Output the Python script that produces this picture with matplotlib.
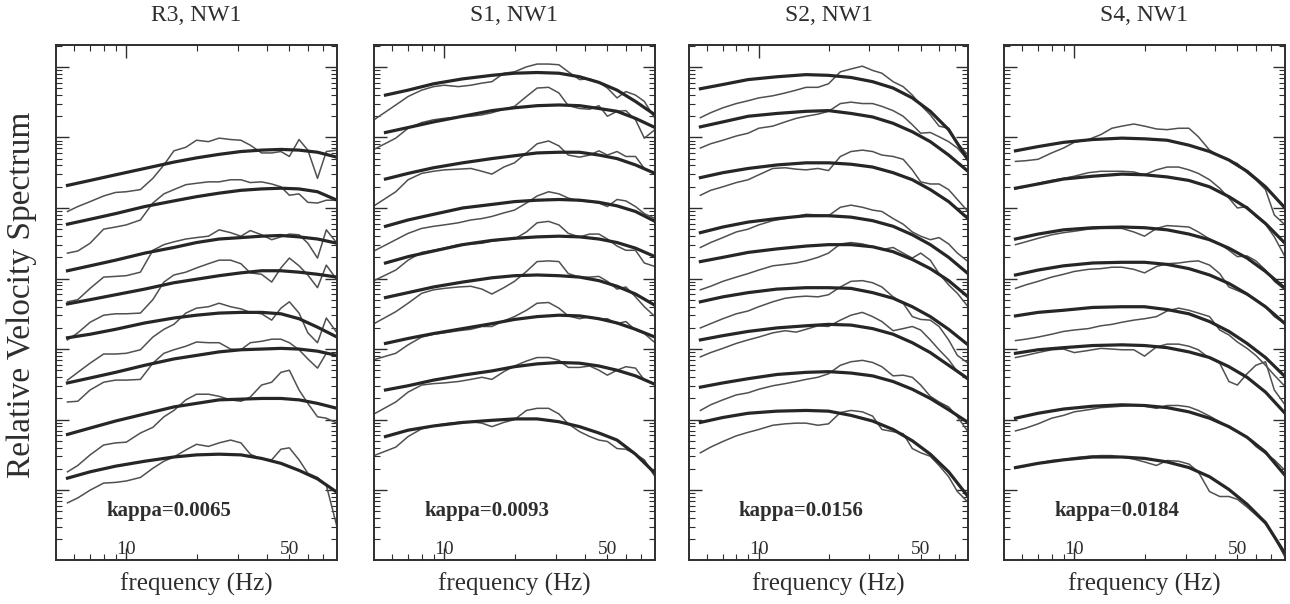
import matplotlib
matplotlib.use('Agg')
import matplotlib.pyplot as plt
from matplotlib.ticker import FixedLocator, FuncFormatter, NullFormatter, LogLocator
import numpy as np

plt.rcParams['font.family'] = ['Liberation Serif', 'DejaVu Serif']

# frequency grids (Hz)
freq_fit = [5.6, 7, 9, 12, 16, 20, 25, 31, 38, 46, 55, 66, 80]
freq_obs = [5.6, 6.2, 7, 8, 9, 10, 11.5, 13, 14.5, 16, 18, 20, 22.5, 25, 28, 31, 34,
            38, 42, 46, 50, 55, 60, 66, 72, 80]
freq_obs_s1 = [5.0, 6.2, 7, 8, 9, 10, 11.5, 13, 14.5, 16, 18, 20, 22.5, 25, 28, 31, 34,
               38, 42, 46, 50, 55, 60, 66, 72, 80]

titles = ['R3, NW1', 'S1, NW1', 'S2, NW1', 'S4, NW1']
kappas = ['kappa=0.0065', 'kappa=0.0093', 'kappa=0.0156', 'kappa=0.0184']

# log10 of relative velocity spectrum (offset for display)
r3_fit = [
    [4.32, 4.39, 4.47, 4.56, 4.65, 4.71, 4.76, 4.80, 4.82, 4.83, 4.82, 4.79, 4.72],
    [3.77, 3.84, 3.92, 4.02, 4.10, 4.16, 4.21, 4.25, 4.27, 4.28, 4.27, 4.23, 4.11],
    [3.11, 3.18, 3.26, 3.36, 3.44, 3.51, 3.56, 3.58, 3.60, 3.61, 3.59, 3.56, 3.50],
    [2.64, 2.70, 2.77, 2.85, 2.94, 2.99, 3.04, 3.08, 3.11, 3.11, 3.09, 3.06, 3.02],
    [2.16, 2.21, 2.28, 2.37, 2.44, 2.48, 2.51, 2.52, 2.52, 2.50, 2.43, 2.31, 2.17],
    [1.52, 1.59, 1.67, 1.77, 1.86, 1.91, 1.96, 1.99, 2.00, 2.01, 2.00, 1.97, 1.91],
    [0.79, 0.88, 0.98, 1.08, 1.18, 1.23, 1.28, 1.29, 1.30, 1.30, 1.28, 1.23, 1.16],
    [0.17, 0.26, 0.34, 0.41, 0.47, 0.50, 0.51, 0.50, 0.45, 0.38, 0.28, 0.16, -0.03],
]
r3_obs = [
    [3.95, 4.02, 4.09, 4.17, 4.22, 4.23, 4.26, 4.42, 4.61, 4.81, 4.86, 4.96, 4.94, 4.99, 4.97, 4.96, 4.89, 4.78, 4.78, 4.80, 4.73, 4.97, 4.82, 4.42, 4.80, 4.82],
    [3.36, 3.39, 3.50, 3.70, 3.73, 3.76, 3.83, 4.07, 4.20, 4.26, 4.33, 4.35, 4.37, 4.37, 4.40, 4.40, 4.36, 4.37, 4.34, 4.30, 4.18, 4.20, 4.08, 4.07, 4.11, 4.11],
    [2.67, 2.70, 2.86, 3.02, 3.03, 3.04, 3.09, 3.40, 3.48, 3.52, 3.56, 3.58, 3.60, 3.69, 3.65, 3.60, 3.68, 3.62, 3.55, 3.59, 3.63, 3.62, 3.50, 3.29, 3.69, 3.50],
    [2.13, 2.23, 2.38, 2.48, 2.50, 2.50, 2.51, 2.70, 2.95, 3.05, 3.09, 3.15, 3.21, 3.26, 3.26, 3.21, 3.08, 3.06, 2.95, 3.15, 3.29, 3.18, 3.05, 2.87, 3.19, 2.98],
    [1.56, 1.67, 1.80, 1.93, 1.93, 1.94, 1.99, 2.17, 2.28, 2.35, 2.51, 2.58, 2.60, 2.65, 2.60, 2.57, 2.52, 2.50, 2.41, 2.58, 2.67, 2.51, 2.23, 2.09, 2.44, 2.23],
    [1.25, 1.26, 1.42, 1.53, 1.56, 1.56, 1.57, 1.80, 1.94, 1.99, 2.04, 2.10, 2.09, 2.09, 2.00, 1.99, 2.09, 2.11, 2.14, 2.14, 2.09, 1.99, 1.86, 1.73, 1.94, 1.91],
    [0.26, 0.35, 0.50, 0.64, 0.67, 0.68, 0.81, 0.89, 1.04, 1.13, 1.28, 1.36, 1.36, 1.33, 1.28, 1.26, 1.32, 1.49, 1.53, 1.67, 1.70, 1.42, 1.23, 1.04, 1.02, 0.95],
    [-0.18, -0.11, 0.00, 0.10, 0.11, 0.13, 0.18, 0.31, 0.41, 0.47, 0.57, 0.65, 0.62, 0.67, 0.71, 0.67, 0.51, 0.44, 0.43, 0.58, 0.60, 0.43, 0.24, 0.18, 0.07, -0.52],
]

s1_fit = [
    [5.60, 5.67, 5.76, 5.83, 5.88, 5.91, 5.92, 5.91, 5.86, 5.78, 5.67, 5.51, 5.32],
    [5.07, 5.14, 5.22, 5.30, 5.38, 5.42, 5.45, 5.46, 5.45, 5.41, 5.37, 5.27, 5.14],
    [4.41, 4.49, 4.57, 4.64, 4.70, 4.74, 4.78, 4.79, 4.79, 4.75, 4.70, 4.61, 4.49],
    [3.74, 3.83, 3.91, 4.00, 4.05, 4.09, 4.11, 4.12, 4.11, 4.08, 4.03, 3.95, 3.81],
    [3.22, 3.31, 3.39, 3.48, 3.54, 3.57, 3.59, 3.60, 3.59, 3.56, 3.51, 3.43, 3.31],
    [2.73, 2.80, 2.88, 2.95, 3.01, 3.04, 3.05, 3.04, 3.02, 2.97, 2.89, 2.78, 2.62],
    [2.08, 2.15, 2.22, 2.29, 2.36, 2.42, 2.46, 2.48, 2.47, 2.43, 2.37, 2.28, 2.17],
    [1.42, 1.48, 1.56, 1.63, 1.69, 1.75, 1.79, 1.81, 1.80, 1.76, 1.70, 1.62, 1.50],
    [0.76, 0.85, 0.91, 0.96, 0.99, 1.01, 1.01, 0.97, 0.90, 0.81, 0.71, 0.51, 0.24],
]
s1_obs = [
    [5.25, 5.46, 5.58, 5.67, 5.72, 5.74, 5.72, 5.74, 5.77, 5.79, 5.91, 5.93, 6.00, 6.04, 6.04, 6.03, 5.93, 5.82, 5.83, 5.78, 5.70, 5.56, 5.65, 5.60, 5.51, 5.27],
    [4.83, 4.99, 5.13, 5.21, 5.25, 5.27, 5.29, 5.30, 5.32, 5.35, 5.40, 5.44, 5.58, 5.70, 5.71, 5.63, 5.45, 5.41, 5.40, 5.45, 5.30, 5.37, 5.38, 5.25, 4.99, 5.11],
    [4.03, 4.23, 4.40, 4.49, 4.52, 4.54, 4.55, 4.56, 4.52, 4.48, 4.58, 4.64, 4.78, 4.91, 4.95, 4.88, 4.75, 4.72, 4.75, 4.81, 4.75, 4.80, 4.73, 4.73, 4.56, 4.49],
    [3.39, 3.55, 3.64, 3.71, 3.74, 3.76, 3.79, 3.83, 3.85, 3.88, 3.93, 3.97, 4.07, 4.17, 4.23, 4.20, 4.14, 4.10, 4.09, 4.07, 4.02, 4.12, 4.10, 4.02, 3.92, 3.85],
    [2.97, 3.12, 3.26, 3.37, 3.40, 3.43, 3.48, 3.49, 3.50, 3.53, 3.55, 3.56, 3.66, 3.79, 3.81, 3.76, 3.64, 3.59, 3.63, 3.63, 3.56, 3.46, 3.40, 3.40, 3.22, 3.17],
    [2.36, 2.53, 2.65, 2.79, 2.84, 2.86, 2.88, 2.89, 2.85, 2.78, 2.87, 2.96, 3.10, 3.24, 3.25, 3.24, 3.07, 3.02, 3.02, 3.03, 2.96, 2.85, 2.88, 2.74, 2.60, 2.46],
    [1.85, 1.94, 2.06, 2.17, 2.21, 2.23, 2.26, 2.28, 2.32, 2.32, 2.40, 2.46, 2.55, 2.65, 2.66, 2.58, 2.47, 2.43, 2.46, 2.42, 2.43, 2.36, 2.39, 2.27, 2.22, 2.09],
    [1.08, 1.25, 1.39, 1.49, 1.51, 1.52, 1.54, 1.57, 1.60, 1.57, 1.68, 1.76, 1.83, 1.88, 1.88, 1.84, 1.74, 1.74, 1.76, 1.70, 1.63, 1.70, 1.75, 1.73, 1.56, 1.50],
    [0.49, 0.61, 0.76, 0.87, 0.91, 0.94, 0.96, 0.97, 0.95, 0.90, 0.96, 1.00, 1.13, 1.16, 1.16, 1.08, 0.94, 0.83, 0.76, 0.71, 0.69, 0.59, 0.58, 0.51, 0.43, 0.19],
]

s2_fit = [
    [5.69, 5.75, 5.82, 5.86, 5.89, 5.88, 5.85, 5.79, 5.70, 5.56, 5.37, 5.11, 4.68],
    [5.15, 5.22, 5.30, 5.34, 5.37, 5.38, 5.34, 5.29, 5.20, 5.08, 4.94, 4.75, 4.52],
    [4.43, 4.50, 4.56, 4.61, 4.64, 4.64, 4.62, 4.58, 4.50, 4.40, 4.26, 4.09, 3.85],
    [3.65, 3.73, 3.80, 3.85, 3.89, 3.89, 3.87, 3.82, 3.74, 3.62, 3.48, 3.30, 3.07],
    [3.24, 3.30, 3.37, 3.42, 3.46, 3.48, 3.48, 3.45, 3.38, 3.27, 3.14, 2.97, 2.74],
    [2.67, 2.74, 2.80, 2.85, 2.87, 2.87, 2.86, 2.80, 2.72, 2.60, 2.46, 2.28, 2.06],
    [2.13, 2.19, 2.25, 2.30, 2.33, 2.35, 2.34, 2.29, 2.21, 2.09, 1.95, 1.77, 1.58],
    [1.46, 1.52, 1.58, 1.64, 1.67, 1.68, 1.66, 1.62, 1.54, 1.43, 1.30, 1.14, 0.96],
    [0.96, 1.03, 1.09, 1.12, 1.13, 1.12, 1.06, 0.98, 0.86, 0.70, 0.51, 0.26, -0.09],
]
s2_obs = [
    [5.28, 5.35, 5.42, 5.48, 5.52, 5.56, 5.59, 5.63, 5.67, 5.71, 5.71, 5.76, 5.93, 5.97, 6.01, 5.95, 5.91, 5.79, 5.72, 5.60, 5.46, 5.32, 5.16, 5.13, 4.92, 4.75],
    [4.85, 4.91, 4.96, 5.02, 5.06, 5.13, 5.16, 5.22, 5.27, 5.30, 5.33, 5.37, 5.48, 5.50, 5.48, 5.48, 5.44, 5.38, 5.30, 5.18, 5.06, 5.07, 5.01, 4.94, 4.85, 4.68],
    [4.18, 4.25, 4.30, 4.36, 4.40, 4.47, 4.56, 4.57, 4.55, 4.54, 4.56, 4.53, 4.73, 4.80, 4.82, 4.80, 4.75, 4.73, 4.69, 4.54, 4.37, 4.34, 4.34, 4.26, 4.12, 3.95],
    [3.44, 3.51, 3.58, 3.66, 3.70, 3.76, 3.82, 3.85, 3.88, 3.91, 3.90, 3.89, 4.01, 4.04, 4.01, 3.97, 3.95, 3.85, 3.77, 3.66, 3.60, 3.55, 3.58, 3.49, 3.36, 3.24],
    [2.84, 2.89, 2.96, 3.02, 3.07, 3.12, 3.18, 3.20, 3.22, 3.25, 3.30, 3.36, 3.49, 3.51, 3.49, 3.45, 3.41, 3.44, 3.36, 3.29, 3.36, 3.26, 3.07, 2.91, 2.79, 2.60],
    [2.30, 2.36, 2.43, 2.50, 2.54, 2.60, 2.67, 2.72, 2.74, 2.75, 2.74, 2.77, 2.88, 2.96, 2.97, 2.94, 2.88, 2.74, 2.65, 2.46, 2.42, 2.41, 2.32, 2.13, 1.91, 1.80],
    [1.89, 1.95, 2.01, 2.08, 2.13, 2.17, 2.23, 2.26, 2.24, 2.28, 2.33, 2.32, 2.41, 2.48, 2.52, 2.46, 2.39, 2.26, 2.29, 2.32, 2.27, 2.13, 1.99, 1.85, 1.68, 1.56],
    [1.13, 1.21, 1.28, 1.35, 1.38, 1.43, 1.48, 1.51, 1.54, 1.57, 1.60, 1.65, 1.77, 1.82, 1.84, 1.81, 1.75, 1.62, 1.63, 1.60, 1.49, 1.33, 1.25, 1.18, 1.04, 0.83],
    [0.53, 0.61, 0.69, 0.77, 0.82, 0.86, 0.92, 0.94, 0.95, 0.95, 0.92, 0.94, 1.10, 1.13, 1.11, 1.05, 0.86, 0.83, 0.80, 0.59, 0.53, 0.48, 0.35, 0.19, -0.02, -0.17],
]

s4_fit = [
    [4.81, 4.87, 4.93, 4.97, 4.99, 4.98, 4.96, 4.89, 4.80, 4.68, 4.52, 4.30, 4.00],
    [4.28, 4.34, 4.41, 4.45, 4.48, 4.47, 4.44, 4.39, 4.30, 4.16, 4.00, 3.78, 3.50],
    [3.56, 3.63, 3.69, 3.72, 3.73, 3.72, 3.69, 3.63, 3.55, 3.43, 3.29, 3.10, 2.86],
    [3.05, 3.12, 3.18, 3.22, 3.23, 3.23, 3.20, 3.14, 3.05, 2.93, 2.78, 2.60, 2.36],
    [2.47, 2.52, 2.55, 2.59, 2.60, 2.60, 2.56, 2.50, 2.39, 2.25, 2.08, 1.88, 1.61],
    [1.94, 1.99, 2.02, 2.05, 2.06, 2.05, 2.02, 1.96, 1.88, 1.75, 1.60, 1.39, 1.09],
    [1.02, 1.09, 1.15, 1.19, 1.21, 1.20, 1.17, 1.11, 1.02, 0.90, 0.75, 0.54, 0.21],
    [0.32, 0.38, 0.43, 0.47, 0.47, 0.45, 0.40, 0.32, 0.19, 0.01, -0.20, -0.46, -0.90],
]
s4_obs = [
    [4.66, 4.67, 4.69, 4.78, 4.85, 4.93, 4.97, 5.04, 5.13, 5.16, 5.19, 5.16, 5.12, 5.11, 5.13, 5.13, 5.01, 4.82, 4.73, 4.68, 4.63, 4.50, 4.40, 4.26, 3.90, 3.76],
    [4.27, 4.30, 4.35, 4.39, 4.42, 4.45, 4.50, 4.52, 4.52, 4.52, 4.51, 4.47, 4.54, 4.58, 4.58, 4.54, 4.49, 4.40, 4.28, 4.14, 4.00, 4.02, 3.88, 3.77, 3.59, 3.31],
    [3.48, 3.52, 3.57, 3.62, 3.65, 3.67, 3.70, 3.71, 3.71, 3.71, 3.66, 3.60, 3.71, 3.75, 3.74, 3.73, 3.66, 3.56, 3.49, 3.40, 3.31, 3.32, 3.25, 3.12, 2.96, 2.84],
    [2.86, 2.91, 2.96, 3.02, 3.06, 3.10, 3.13, 3.14, 3.16, 3.16, 3.13, 3.08, 3.17, 3.21, 3.22, 3.24, 3.25, 3.19, 3.07, 2.88, 2.83, 2.77, 2.70, 2.60, 2.46, 2.36],
    [2.12, 2.14, 2.17, 2.21, 2.25, 2.27, 2.29, 2.33, 2.35, 2.38, 2.41, 2.43, 2.46, 2.54, 2.58, 2.55, 2.51, 2.46, 2.27, 2.20, 2.10, 2.01, 1.91, 1.77, 1.63, 1.47],
    [1.88, 1.91, 1.95, 1.99, 2.00, 1.95, 1.98, 2.01, 2.00, 1.99, 1.99, 1.90, 2.03, 2.07, 2.07, 2.04, 1.99, 1.87, 1.80, 1.54, 1.49, 1.65, 1.77, 1.82, 1.42, 1.21],
    [0.84, 0.88, 0.94, 1.02, 1.06, 1.11, 1.14, 1.17, 1.18, 1.19, 1.20, 1.19, 1.16, 1.20, 1.20, 1.18, 1.13, 1.05, 0.97, 0.89, 0.83, 0.75, 0.62, 0.52, 0.43, 0.28],
    [0.31, 0.34, 0.38, 0.42, 0.43, 0.46, 0.48, 0.49, 0.49, 0.47, 0.44, 0.40, 0.35, 0.42, 0.41, 0.37, 0.26, -0.02, -0.09, -0.09, -0.13, -0.24, -0.35, -0.48, -0.66, -0.95],
]

panels = [
    (freq_obs, r3_fit, r3_obs),
    (freq_obs_s1, s1_fit, s1_obs),
    (freq_obs, s2_fit, s2_obs),
    (freq_obs, s4_fit, s4_obs),
]

W, H = 1290, 604
fig = plt.figure(figsize=(W / 100, H / 100), dpi=100)

lefts = [56, 374, 689, 1004]
widths = [281, 281, 279, 281]
ink = '#2e2e2e'

for i, (fobs, fits, obss) in enumerate(panels):
    ax = fig.add_axes([lefts[i] / W, 44 / H, widths[i] / W, 515 / H])

    for o in obss:
        ax.plot(fobs, 10 ** np.array(o), color='#505050', lw=1.1)
    for f in fits:
        ax.plot(freq_fit, 10 ** np.array(f), color='#262626', lw=2.3)

    ax.set_xscale('log')
    ax.set_yscale('log')
    ax.set_xlim(5, 80)
    ax.set_ylim(10 ** -0.99, 10 ** 6.31)

    ax.xaxis.set_major_locator(FixedLocator([10]))
    ax.xaxis.set_major_formatter(FuncFormatter(lambda v, p: '10'))
    ax.xaxis.set_minor_locator(FixedLocator([6, 7, 8, 9, 20, 30, 40, 50, 60, 70]))
    ax.xaxis.set_minor_formatter(FuncFormatter(lambda v, p: '50' if abs(v - 50) < 1e-6 else ''))
    ax.yaxis.set_major_locator(LogLocator(base=10, numticks=20))
    ax.yaxis.set_minor_locator(LogLocator(base=10, subs=np.arange(2, 10), numticks=20))
    ax.yaxis.set_major_formatter(NullFormatter())
    ax.yaxis.set_minor_formatter(NullFormatter())

    ax.tick_params(which='both', direction='in', top=True, right=True, colors=ink)
    ax.tick_params(which='major', length=9, width=1.0)
    ax.tick_params(which='minor', length=4.5, width=0.8)
    ax.tick_params(axis='x', which='both', pad=-14, labelsize=14, labelcolor=ink)
    for s in ax.spines.values():
        s.set_color(ink)
        s.set_linewidth(1.4)

    ax.text(0.5, 1.058, titles[i], transform=ax.transAxes, ha='center', va='center',
            fontsize=17, color=ink)
    ax.text(0.5, -0.047, 'frequency (Hz)', transform=ax.transAxes, ha='center',
            va='center', fontsize=18, color=ink)
    ax.text(0.178, 0.095, kappas[i], transform=ax.transAxes, ha='left', va='center',
            fontsize=15, fontweight='bold', color=ink)

fig.text(22 / W, 1 - 295 / H, 'Relative Velocity Spectrum', rotation=90,
         ha='center', va='center', fontsize=24, color=ink)

fig.savefig('out.png', dpi=100)
